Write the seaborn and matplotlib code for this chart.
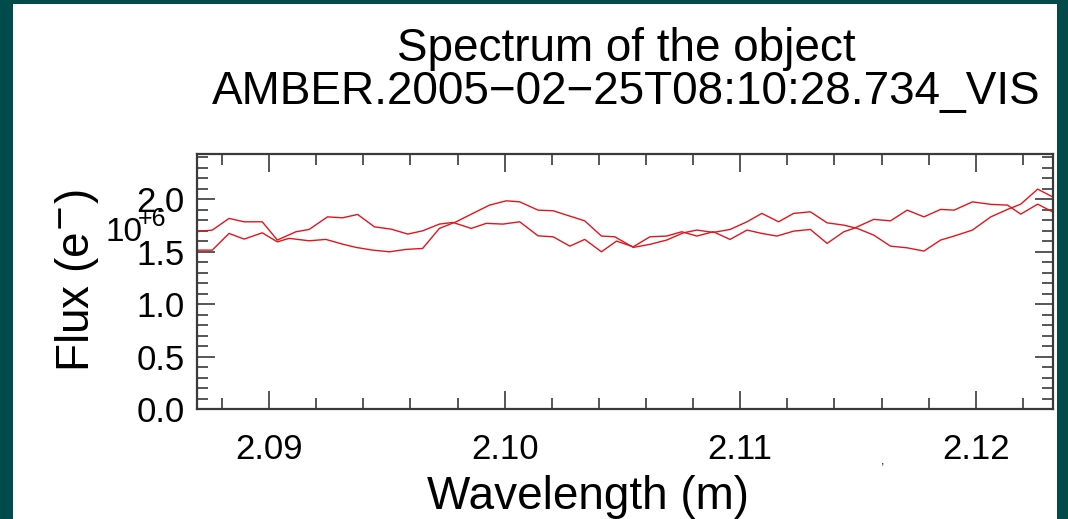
import matplotlib
matplotlib.use("Agg")
import matplotlib.pyplot as plt
from matplotlib.ticker import MultipleLocator, FormatStrFormatter
from matplotlib.patches import Rectangle
import pandas as pd
import seaborn as sns

title_top = "Spectrum of the object"
title_bottom = "AMBER.2005\u221202\u221225T08:10:28.734_VIS"
x_label = "Wavelength (m)"
y_label = "Flux (e$^{-}$)"
x_ticks = [2.09, 2.10, 2.11, 2.12]
x_tick_labels = ["2.09", "2.10", "2.11", "2.12"]

# flux in units of 10^6 e-
wl_a = [2.08688, 2.08759, 2.08830, 2.08894, 2.08971, 2.09035, 2.09114, 2.09170,
        2.09248, 2.09312, 2.09376, 2.09447, 2.09518, 2.09589, 2.09652, 2.09723,
        2.09780, 2.09858, 2.09922, 2.09993, 2.10064, 2.10142, 2.10206, 2.10277,
        2.10340, 2.10411, 2.10475, 2.10546, 2.10617, 2.10688, 2.10752, 2.10816,
        2.10886, 2.10957, 2.11029, 2.11092, 2.11156, 2.11227, 2.11298, 2.11369,
        2.11440, 2.11482, 2.11567, 2.11638, 2.11709, 2.11780, 2.11851, 2.11908,
        2.11986, 2.12064, 2.12135, 2.12191, 2.12263, 2.12326]
flux_a = [1.689, 1.705, 1.816, 1.784, 1.784, 1.610, 1.689, 1.711,
          1.831, 1.822, 1.854, 1.736, 1.714, 1.667, 1.698, 1.762,
          1.778, 1.721, 1.769, 1.762, 1.784, 1.650, 1.641, 1.552,
          1.616, 1.498, 1.600, 1.546, 1.641, 1.648, 1.689, 1.648,
          1.689, 1.616, 1.705, 1.673, 1.648, 1.695, 1.711, 1.578,
          1.689, 1.721, 1.807, 1.793, 1.895, 1.831, 1.902, 1.895,
          1.974, 1.950, 1.943, 1.857, 1.952, 1.879]

wl_b = [2.08688, 2.08759, 2.08830, 2.08894, 2.08971, 2.09035, 2.09085, 2.09170,
        2.09241, 2.09312, 2.09369, 2.09440, 2.09511, 2.09582, 2.09652, 2.09723,
        2.09794, 2.09865, 2.09936, 2.10007, 2.10064, 2.10142, 2.10206, 2.10277,
        2.10340, 2.10411, 2.10468, 2.10546, 2.10617, 2.10688, 2.10759, 2.10816,
        2.10886, 2.10957, 2.11029, 2.11092, 2.11163, 2.11227, 2.11298, 2.11369,
        2.11440, 2.11497, 2.11567, 2.11638, 2.11709, 2.11780, 2.11851, 2.11908,
        2.11986, 2.12064, 2.12135, 2.12191, 2.12263, 2.12326]
flux_b = [1.514, 1.514, 1.673, 1.619, 1.679, 1.593, 1.626, 1.603,
          1.616, 1.571, 1.540, 1.514, 1.498, 1.521, 1.530, 1.721,
          1.784, 1.864, 1.943, 1.984, 1.974, 1.895, 1.889, 1.838,
          1.793, 1.648, 1.641, 1.540, 1.569, 1.610, 1.679, 1.705,
          1.683, 1.711, 1.784, 1.864, 1.784, 1.864, 1.879, 1.774,
          1.752, 1.721, 1.657, 1.552, 1.536, 1.505, 1.610, 1.648,
          1.705, 1.831, 1.902, 1.952, 2.095, 2.022]

teal = "#014b4b"
red = "#e5141b"
axis_grey = "#3a3a3a"

df = pd.concat([
    pd.DataFrame({"wavelength": wl_a, "flux": flux_a, "spectrum": "a"}),
    pd.DataFrame({"wavelength": wl_b, "flux": flux_b, "spectrum": "b"}),
])

sns.set_theme(style="ticks")
plt.rcParams["font.family"] = ["Liberation Sans", "DejaVu Sans"]
plt.rcParams["text.color"] = "black"
plt.rcParams["axes.labelcolor"] = "black"

W, H = 1068, 519
fig = plt.figure(figsize=(W / 100, H / 100), dpi=100)
fig.patch.set_facecolor(teal)
fig.add_artist(Rectangle((13 / W, 0), (1057 - 13) / W, (H - 4) / H,
                         transform=fig.transFigure, facecolor="white",
                         edgecolor="none", zorder=-1))

ax = fig.add_axes([197 / W, 1 - 409 / H, (1053 - 197) / W, (409 - 154) / H])
sns.lineplot(data=df, x="wavelength", y="flux", hue="spectrum",
             palette=[red, red], estimator=None, sort=False, legend=False,
             linewidth=1.0, ax=ax)

ax.set_xlim(2.08694, 2.12328)
ax.set_ylim(0, 2.43)
ax.set_xticks(x_ticks)
ax.set_xticklabels(x_tick_labels)
ax.xaxis.set_minor_locator(MultipleLocator(0.002))
ax.yaxis.set_major_locator(MultipleLocator(0.5))
ax.yaxis.set_minor_locator(MultipleLocator(0.1))
ax.yaxis.set_major_formatter(FormatStrFormatter("%.1f"))

ax.tick_params(which="both", direction="in", top=True, right=True,
               color=axis_grey, width=1.2, labelcolor="black")
ax.tick_params(which="major", length=13)
ax.tick_params(which="minor", length=8)
ax.tick_params(axis="x", which="major", labelsize=25, pad=17)
ax.tick_params(axis="y", which="major", labelsize=25, pad=9)
for s in ax.spines.values():
    s.set_color(axis_grey)
    s.set_linewidth(1.6)

ax.set_xlabel(x_label, fontsize=33, va="baseline")
ax.xaxis.set_label_coords((588 - 197) / 856, (409 - 509) / 255)
ax.set_ylabel(y_label, fontsize=33, va="center")
ax.yaxis.set_label_coords((77 - 197) / 856, (409 - 280) / 255)

fig.text(626 / W, 1 - 61 / H, title_top, fontsize=33, ha="center", va="baseline")
fig.text(626 / W, 1 - 104 / H, title_bottom, fontsize=33, ha="center", va="baseline")

# IDL-style exponent label next to the y axis
fig.text(105 / W, 1 - 241 / H, "10", fontsize=24, ha="left", va="baseline")
fig.text(138 / W, 1 - 226 / H, "+6", fontsize=18, ha="left", va="baseline")
fig.text(881 / W, 1 - 465 / H, ",", fontsize=9, ha="left", va="baseline")

fig.savefig("out.png", dpi=100, facecolor=fig.get_facecolor())
